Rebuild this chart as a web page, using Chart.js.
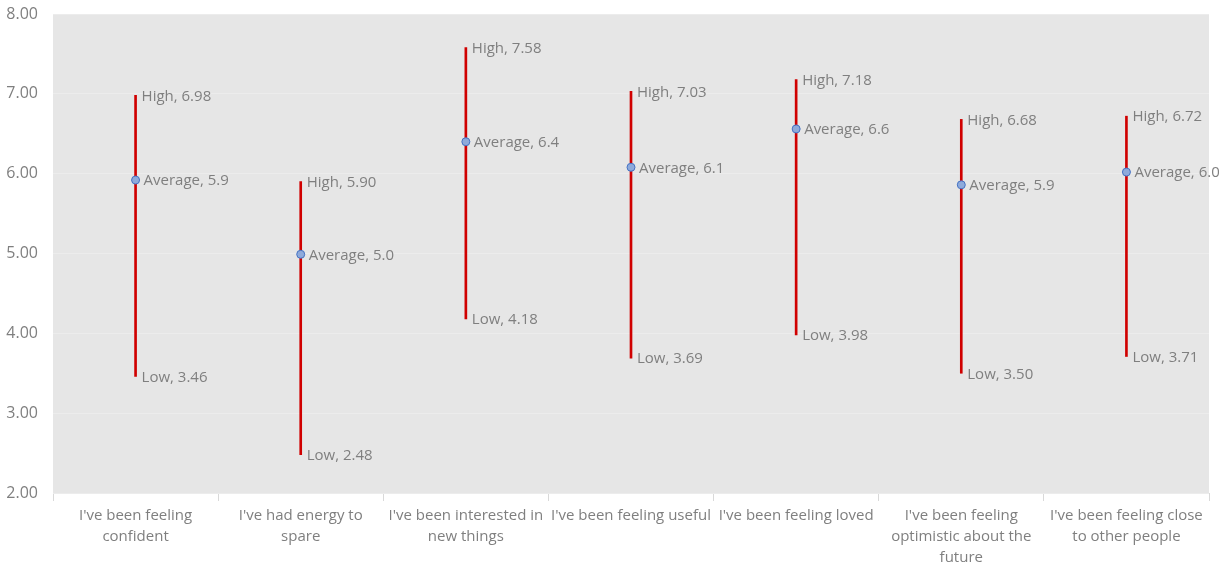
<!DOCTYPE html>
<html>
<head>
<meta charset="utf-8">
<script src="https://cdn.jsdelivr.net/npm/chart.js@4/dist/chart.umd.min.js"></script>
<style>
  html, body { margin: 0; padding: 0; background: #fff; }
  #wrap { width: 1219px; height: 567px; }
</style>
</head>
<body>
<div id="wrap"><canvas id="chart"></canvas></div>
<script>
const categories = [
  ["I've been feeling", "confident"],
  ["I've had energy to", "spare"],
  ["I've been interested in", "new things"],
  "I've been feeling useful",
  "I've been feeling loved",
  ["I've been feeling", "optimistic about the", "future"],
  ["I've been feeling close", "to other people"],
];
const lowValues = [3.46, 2.48, 4.18, 3.69, 3.98, 3.50, 3.71];
const highValues = [6.98, 5.90, 7.58, 7.03, 7.18, 6.68, 6.72];
const averageValues = [5.92, 4.99, 6.40, 6.08, 6.56, 5.86, 6.02];
const yTicks = [2, 3, 4, 5, 6, 7, 8];

const FONT = "'Open Sans', sans-serif";
const TEXT = "#7f7f7f";

// gray plot background
const plotBg = {
  id: "plotBg",
  beforeDraw(chart) {
    const { ctx, chartArea: a } = chart;
    ctx.save();
    ctx.fillStyle = "#e6e6e6";
    ctx.fillRect(a.left, a.top, a.right - a.left, a.bottom - a.top);
    ctx.restore();
  },
};

// "High, x" / "Low, x" / "Average, x" labels
const pointLabels = {
  id: "pointLabels",
  afterDatasetsDraw(chart) {
    const ctx = chart.ctx;
    const y = chart.scales.y;
    const barMeta = chart.getDatasetMeta(0);
    const avgMeta = chart.getDatasetMeta(1);
    ctx.save();
    ctx.font = "15px " + FONT;
    ctx.fillStyle = TEXT;
    ctx.textBaseline = "middle";
    ctx.textAlign = "left";
    barMeta.data.forEach((bar, i) => {
      const x = bar.x + 6;
      ctx.fillText("High, " + highValues[i].toFixed(2), x, y.getPixelForValue(highValues[i]) + 1);
      ctx.fillText("Low, " + lowValues[i].toFixed(2), x, y.getPixelForValue(lowValues[i]) + 1);
    });
    avgMeta.data.forEach((pt, i) => {
      ctx.fillText("Average, " + averageValues[i].toFixed(1), pt.x + 8, pt.y + 1);
    });
    ctx.restore();
  },
};

new Chart(document.getElementById("chart"), {
  type: "bar",
  data: {
    labels: categories,
    datasets: [
      {
        type: "bar",
        label: "Range",
        data: lowValues.map((lo, i) => [lo, highValues[i]]),
        backgroundColor: "#d00000",
        borderWidth: 0,
        barThickness: 2,
        order: 1,
      },
      {
        type: "line",
        label: "Average",
        data: averageValues,
        showLine: false,
        pointRadius: 4,
        pointBackgroundColor: "#8eaadb",
        pointBorderColor: "#4472c4",
        pointBorderWidth: 1,
        order: 0,
      },
    ],
  },
  options: {
    responsive: true,
    maintainAspectRatio: false,
    animation: false,
    layout: { padding: { top: 14, right: 10, left: 0, bottom: 0 } },
    plugins: {
      legend: { display: false },
      tooltip: { enabled: false },
    },
    scales: {
      x: {
        offset: true,
        grid: {
          offset: true,
          drawOnChartArea: false,
          color: "#d9d9d9",
          tickLength: 8,
        },
        border: { display: false },
        ticks: {
          color: TEXT,
          font: { family: FONT, size: 15, lineHeight: 1.4 },
          maxRotation: 0,
          autoSkip: false,
          padding: 4,
        },
        afterFit(scale) { scale.height = 74; },
      },
      y: {
        min: 2,
        max: 8,
        afterBuildTicks(scale) { scale.ticks = yTicks.map(v => ({ value: v })); },
        grid: { color: "#ececec", drawTicks: false },
        border: { display: false },
        ticks: {
          color: TEXT,
          font: { family: FONT, size: 16 },
          padding: 15,
          callback: v => Number(v).toFixed(2),
        },
        afterFit(scale) {
          scale.width = 53;
          scale.paddingTop = 0;
          scale.paddingBottom = 0;
        },
      },
    },
  },
  plugins: [plotBg, pointLabels],
});
</script>
</body>
</html>
